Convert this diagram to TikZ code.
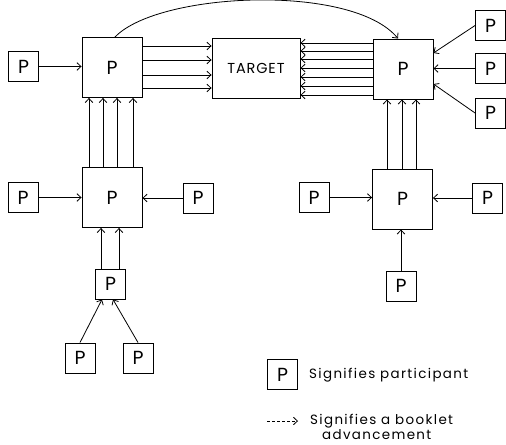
\documentclass[tikz,border=0pt]{standalone}
\usepackage{fontspec}
\setmainfont{Poppins}
\usetikzlibrary{arrows.meta}
\tikzset{
  base/.style={draw, line width=0.9bp, inner sep=0pt, font=\fontsize{19}{19}\selectfont},
  small/.style={base, minimum width=30bp, minimum height=30bp},
  big/.style={base, minimum width=60bp, minimum height=60bp},
  flow/.style={line width=0.8bp, -{Straight Barb[length=4bp,width=7.5bp]}},
  legendtext/.style={anchor=west, inner sep=0pt, font=\fontsize{13.5}{13.5}\selectfont\addfontfeatures{LetterSpace=10}}
}
\begin{document}
\begin{tikzpicture}[x=1bp, y=-1bp]
\useasboundingbox (0,0) rectangle (506,445);

% main chain: left pair, target, right pair
\node[big] (A) at (112,67.5) {P};
\node[base, minimum width=88bp, minimum height=60bp, font=\fontsize{14.5}{14.5}\selectfont\addfontfeatures{LetterSpace=6}] (T) at (256,68) {TARGET};
\node[big] (B) at (403,69) {P};
\node[big] (C) at (112,197.5) {P};
\node[big] (D) at (402.5,199) {P};

% single participants
\node[small] (a1) at (23.5,66.5) {P};
\node[small] (b1) at (490.5,25.5) {P};
\node[small] (b2) at (490.5,68.5) {P};
\node[small] (b3) at (490.5,113) {P};
\node[small] (c1) at (23,197.5) {P};
\node[small] (c2) at (198,198) {P};
\node[small] (c3) at (110.5,284) {P};
\node[small] (c4) at (80,358) {P};
\node[small] (c5) at (138,358) {P};
\node[small] (d1) at (314,197.5) {P};
\node[small] (d2) at (487.5,198) {P};
\node[small] (d3) at (401,286) {P};

% left branch
\draw[flow] (a1.east) -- (A.west |- a1.east);
\foreach \y in {46,60,75,88} \draw[flow] (A.east |- 0,\y) -- (T.west |- 0,\y);
\foreach \x in {89,103,117,133} \draw[flow] (C.north -| \x,0) -- (A.south -| \x,0);
\draw[flow] (c1.east) -- (C.west |- c1.east);
\draw[flow] (c2.west) -- (C.east |- c2.west);
\foreach \x in {101,119} \draw[flow] (c3.north -| \x,0) -- (C.south -| \x,0);
\draw[flow] (c4.north) -- (c3.south -| 102,0);
\draw[flow] (c5.north) -- (c3.south -| 113,0);

% right branch
\foreach \y in {43,51,59,68,77,86,95} \draw[flow] (B.west |- 0,\y) -- (T.east |- 0,\y);
\draw[flow] (b1.west) -- (B.east |- 0,53);
\draw[flow] (b2.west) -- (B.east |- b2.west);
\draw[flow] (b3.west) -- (B.east |- 0,84);
\foreach \x in {387,402,416} \draw[flow] (D.north -| \x,0) -- (B.south -| \x,0);
\draw[flow] (d1.east) -- (D.west |- d1.east);
\draw[flow] (d2.west) -- (D.east |- d2.west);
\draw[flow] (d3.north) -- (D.south -| d3.north);

% arc over the target
\draw[flow] (A.north -| 115,0) .. controls (158,-8) and (352,-17) .. (B.north -| 398,0);

% key
\node[small] (L) at (282.5,374.5) {P};
\node[legendtext] (L1) at (309,375) {Signifies participant};
\coordinate (k1) at (267,421);
\coordinate (k2) at (298,421);
\draw[flow, dash pattern=on 3bp off 2bp] (k1) -- (k2);
\node[legendtext] (L2) at (310,421) {Signifies a booklet};
\node[legendtext] (L3) at (322,435) {advancement};
\end{tikzpicture}
\end{document}
